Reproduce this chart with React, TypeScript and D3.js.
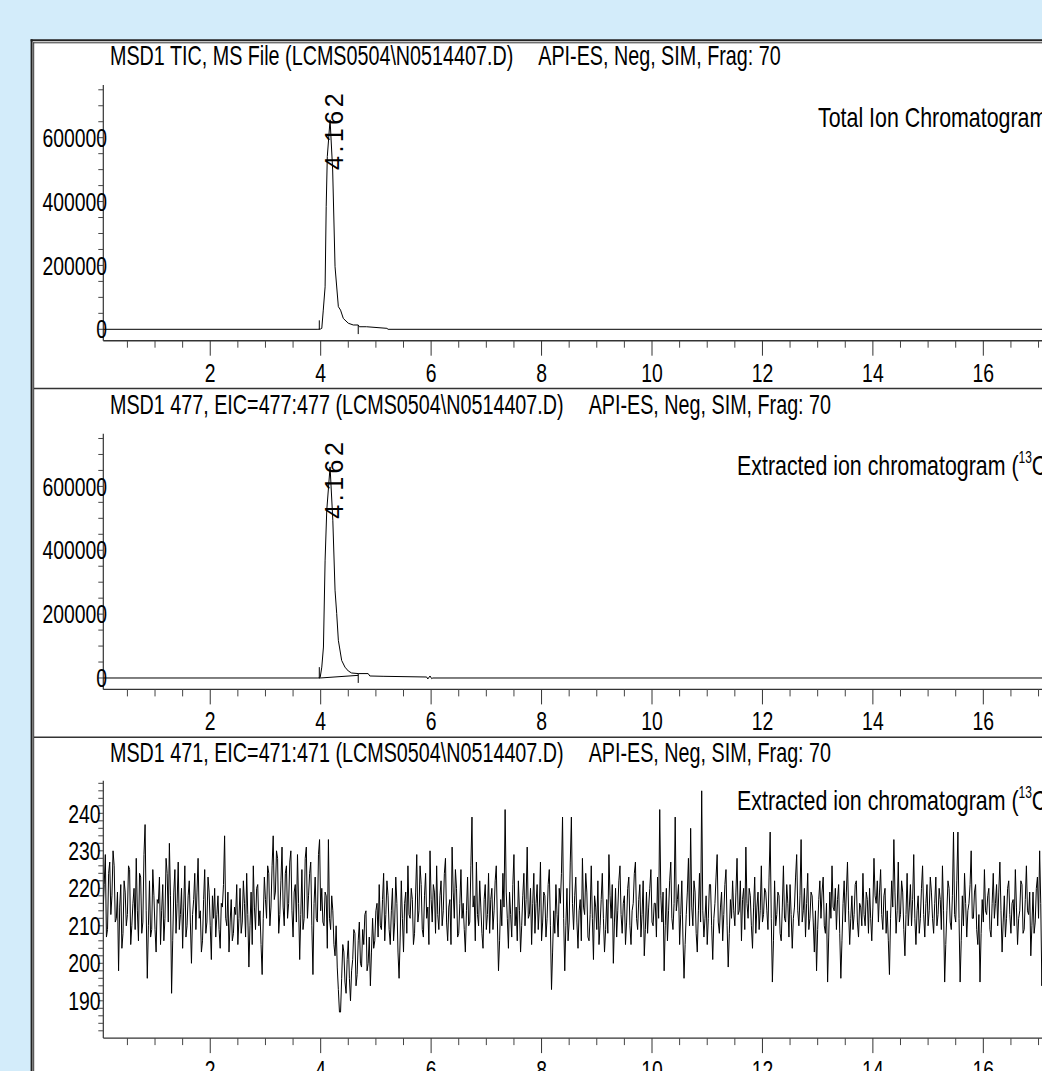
import React from "react";
import * as d3 from "d3";

// ---------- DATA ----------
const panelTitles = [
  "MSD1 TIC, MS File (LCMS0504\\N0514407.D)",
  "MSD1 477, EIC=477:477 (LCMS0504\\N0514407.D)",
  "MSD1 471, EIC=471:471 (LCMS0504\\N0514407.D)",
];
const acqInfo = "API-ES, Neg, SIM, Frag: 70";
const panelNotes = ["Total Ion Chromatogram", "Extracted ion chromatogram (", "Extracted ion chromatogram ("];
const xMajorTicks = [2, 4, 6, 8, 10, 12, 14, 16, 18];
const peakRT = 4.162;

// Panel 1: TIC
const ticTimes = [0.06, 3.95, 4.0, 4.02, 4.047, 4.08, 4.1, 4.12, 4.17, 4.217, 4.26, 4.32, 4.36, 4.41, 4.5, 4.59, 4.68, 4.7, 4.83, 5.2, 5.22, 18.5];
const ticValues = [0, 0, 1000, 3000, 60000, 133000, 384000, 541000, 656000, 499000, 196000, 71000, 60000, 34000, 19000, 13500, 13500, 8000, 8000, 3000, 0, 0];

// Panel 2: EIC 477
const eic477Times = [0.06, 3.95, 3.99, 4.02, 4.05, 4.08, 4.11, 4.17, 4.22, 4.26, 4.29, 4.32, 4.34, 4.38, 4.44, 4.5, 4.56, 4.68, 4.86, 4.89, 5.13, 5.92, 5.94, 5.98, 6.01, 6.03, 18.5];
const eic477Values = [0, 0, 1000, 34000, 97000, 369000, 525000, 661000, 494000, 275000, 202000, 118000, 97000, 55000, 34000, 22000, 15700, 13800, 13800, 6300, 5300, 3100, -3000, 6300, -2000, 0, 0];

// integration markers [time, from, to]
const ticMarkers = [[3.975, -1000, 28000], [4.68, 13000, -15000]];
const eic477Markers = [[3.975, -2000, 34000], [4.68, 13600, -15400]];
const eic477Baseline = [[3.99, 0], [4.68, 8300]];

// Panel 3: EIC 471 (sampled every 0.02 min from 0.06 min)
const eic471Start = 0.06;
const eic471Step = 0.02;
const eic471Values = [
  214,221,229,207,209,224,227,213,218,230,226,211,212,219,198,215,221,204,208,222,219,210,213,226,225,205,210,216,220,209,228,214,206,224,223,208,211,229,237,214,196,210,222,207,209,225,218,209,203,217,
  216,223,205,214,221,206,212,228,224,211,232,218,192,206,219,225,208,216,227,209,213,220,204,215,226,207,210,218,222,211,200,213,217,224,209,219,228,212,214,203,206,217,225,208,211,223,219,210,201,218,
  212,220,207,213,218,209,204,216,215,221,234,212,210,219,203,211,217,206,208,215,213,221,205,212,220,208,211,222,216,207,224,213,199,210,219,205,226,215,209,220,221,210,214,205,197,212,223,217,212,226,
  224,210,215,226,234,217,219,230,228,208,213,222,231,215,210,224,226,212,216,227,230,214,207,219,221,211,229,216,201,213,225,209,212,228,231,212,218,224,227,210,197,216,223,212,211,229,233,214,220,211,
  210,219,218,204,233,212,209,218,214,205,202,210,199,193,187,187,196,205,203,195,192,201,206,196,190,198,201,209,208,194,197,206,211,200,199,209,205,213,214,198,200,207,194,203,212,204,206,214,216,207,
  221,210,209,217,224,206,213,222,218,209,205,214,220,206,211,223,216,203,196,207,222,212,203,216,219,208,226,213,212,220,217,205,208,219,229,211,214,226,221,209,207,218,224,212,215,205,230,217,211,221,
  219,208,226,213,209,218,222,210,214,224,228,211,206,215,217,205,231,219,212,225,220,207,208,216,225,212,216,209,203,214,223,210,211,226,239,215,218,206,227,213,210,222,215,208,204,217,221,209,213,224,
  208,217,220,209,214,222,226,211,198,206,217,210,224,215,241,219,212,204,219,213,207,221,229,210,215,206,222,214,203,210,218,224,210,217,231,212,213,220,205,216,224,208,216,221,209,215,227,206,211,219,
  218,207,212,221,225,210,193,203,214,208,221,213,207,220,216,224,239,212,198,210,220,206,211,227,239,216,209,218,223,211,204,214,217,206,228,215,213,224,219,207,206,213,226,212,201,218,215,209,222,205,
  210,217,224,212,203,209,217,208,229,218,212,221,200,211,220,207,214,222,226,213,208,216,218,205,211,220,223,210,205,214,216,224,227,212,209,217,221,207,213,222,202,209,219,208,215,220,225,211,210,216,
  216,207,223,212,241,218,211,219,198,210,220,206,214,222,227,212,209,216,239,214,217,221,205,213,222,207,196,205,213,219,228,210,236,215,210,222,219,208,203,214,224,211,246,214,207,212,218,205,212,221,
  221,210,201,212,216,223,229,211,208,215,219,206,213,221,225,210,199,208,217,212,222,214,210,219,228,213,214,222,206,217,220,209,231,216,212,220,218,210,204,215,223,208,215,219,209,214,226,211,213,220,
  219,214,209,223,235,212,195,206,222,210,213,219,218,208,206,215,226,212,211,221,216,207,221,213,204,212,215,223,229,214,210,218,233,211,214,220,207,216,224,209,212,219,218,211,203,214,198,209,217,222,
  212,219,223,210,208,216,195,207,219,212,226,215,214,220,209,217,221,208,196,206,216,222,211,219,227,214,205,212,218,209,213,221,222,211,207,216,215,210,224,213,210,219,217,208,220,212,206,215,228,218,
  216,222,211,219,225,213,209,218,220,208,214,206,197,212,222,215,233,219,208,214,227,211,213,222,219,209,202,213,224,210,215,221,210,217,229,212,205,214,218,208,212,220,226,213,207,216,221,210,214,223,
  219,212,208,216,223,210,213,220,217,209,226,214,195,205,214,222,220,211,209,218,235,213,211,222,235,212,195,206,218,210,224,216,207,214,216,221,230,212,212,219,221,209,205,213,195,208,217,211,225,214,
  213,218,220,209,207,216,224,212,216,221,210,219,227,214,203,211,218,207,212,220,222,213,208,216,217,210,225,215,205,212,214,222,221,208,209,217,226,214,213,219,202,210,219,208,211,220,223,212,230,216,
  194,205,212,218,221,209,208,214,217,
];

const yLabelsAbund = [0, 200000, 400000, 600000];
const yLabels471 = [190, 200, 210, 220, 230, 240];

// ---------- LAYOUT ----------
const W = 1042;
const H = 1071;
const panelTops = [40, 388.7, 737.4];
const SANS = "'Liberation Sans', Arial, Helvetica, sans-serif";
const AXIS_X = 103.3;

const x = d3.scaleLinear().domain([0, 18]).range([99.8, 99.8 + 55.22 * 18]);

function NText({
  x: px,
  y: py,
  size,
  sx,
  anchor = "start",
  dy,
  children,
}: {
  x: number;
  y: number;
  size: number;
  sx: number;
  anchor?: string;
  dy?: string;
  children: React.ReactNode;
}) {
  return (
    <text
      transform={`translate(${px},${py}) scale(${sx},1)`}
      fontFamily={SANS}
      fontSize={size}
      textAnchor={anchor}
      dy={dy}
      fill="#000"
    >
      {children}
    </text>
  );
}

const TICK_FS = 25.5;
const TICK_SX = 0.76;
const TITLE_FS = 28;
const TITLE_SX = 0.705;
const TITLE_GAP = 25;
const NOTE_FS = 28.5;
const NOTE_SX = 0.75;

function XAxis({ y }: { y: number }) {
  const minor = d3.range(0.5, 18.01, 0.5).filter((t) => Math.abs(t / 2 - Math.round(t / 2)) > 1e-6);
  return (
    <g>
      <line x1={AXIS_X} x2={W + 10} y1={y} y2={y} stroke="#333" strokeWidth={1.4} />
      {minor.map((t) => (
        <line key={"m" + t} x1={x(t)} x2={x(t)} y1={y} y2={y + 7} stroke="#444" strokeWidth={1} />
      ))}
      {xMajorTicks.map((t) => (
        <g key={"M" + t}>
          <line x1={x(t)} x2={x(t)} y1={y} y2={y + 15} stroke="#333" strokeWidth={1} />
          <NText x={x(t)} y={y + 41} size={TICK_FS} sx={TICK_SX} anchor="middle">
            {t}
          </NText>
        </g>
      ))}
    </g>
  );
}

function Panel({ idx }: { idx: number }) {
  const T = panelTops[idx];
  const axisY = T + 300.7;
  const isNoise = idx === 2;
  const y = isNoise
    ? d3.scaleLinear().domain([180, 248.7]).range([T + 300.9, T + 43.3])
    : d3.scaleLinear().domain([-35700, 765000]).range([axisY, T + 45]);
  const minorTicks = isNoise ? d3.range(182, 249, 2) : d3.range(0, 750001, 50000);
  const labels = isNoise ? yLabels471 : yLabelsAbund;
  const labelX = isNoise ? 100.5 : 107;

  let pts: [number, number][];
  if (idx === 0) pts = ticTimes.map((t, i) => [t, ticValues[i]]);
  else if (idx === 1) pts = eic477Times.map((t, i) => [t, eic477Values[i]]);
  else pts = eic471Values.map((v, i) => [eic471Start + eic471Step * i, v]);

  const line = d3
    .line<[number, number]>()
    .x((d) => x(d[0]))
    .y((d) => y(d[1]));

  const markers = idx === 0 ? ticMarkers : idx === 1 ? eic477Markers : [];
  const clipId = "clip" + idx;

  return (
    <g>
      <defs>
        <clipPath id={clipId}>
          <rect x={AXIS_X} y={T + 2} width={W} height={346} />
        </clipPath>
      </defs>
      {/* title + acquisition info */}
      <NText x={110} y={T + 25} size={TITLE_FS} sx={TITLE_SX}>
        {panelTitles[idx]}
        <tspan dx={TITLE_GAP / TITLE_SX}>{acqInfo}</tspan>
      </NText>
      {/* annotation */}
      {idx === 0 ? (
        <NText x={818} y={T + 86.7} size={NOTE_FS} sx={NOTE_SX}>
          {panelNotes[0]}
        </NText>
      ) : (
        <NText x={737} y={T + (idx === 1 ? 86.7 : 72.6)} size={NOTE_FS} sx={NOTE_SX}>
          {panelNotes[idx]}
          <tspan fontSize={16} dy={-12}>
            13
          </tspan>
          <tspan dy={12}>C</tspan>
        </NText>
      )}
      {/* y axis */}
      <line x1={AXIS_X} x2={AXIS_X} y1={y.range()[1]} y2={axisY} stroke="#333" strokeWidth={1.2} />
      {minorTicks.map((v) => (
        <line key={v} x1={AXIS_X - 5} x2={AXIS_X} y1={y(v)} y2={y(v)} stroke="#444" strokeWidth={1} />
      ))}
      {labels.map((v) => (
        <NText key={"l" + v} x={labelX} y={y(v)} dy="0.36em" anchor="end" size={TICK_FS} sx={TICK_SX}>
          {v}
        </NText>
      ))}
      <XAxis y={axisY} />
      {/* data */}
      <g clipPath={`url(#${clipId})`}>
        <path d={line(pts) || ""} fill="none" stroke="#000" strokeWidth={1} strokeLinejoin="round" />
        {idx === 1 && (
          <path d={line(eic477Baseline as [number, number][]) || ""} fill="none" stroke="#000" strokeWidth={1} />
        )}
        {markers.map((m, i) => (
          <line key={i} x1={x(m[0])} x2={x(m[0])} y1={y(m[1])} y2={y(m[2])} stroke="#000" strokeWidth={1} />
        ))}
      </g>
      {/* peak label */}
      {!isNoise && (
        <text
          transform={`translate(${x(peakRT) + 13},${T + 130}) rotate(-90)`}
          fontFamily={SANS}
          fontSize={25}
          letterSpacing={3.5}
          fill="#000"
        >
          {peakRT.toFixed(3)}
        </text>
      )}
      {/* separator */}
      {idx < 2 && <line x1={34} x2={W + 10} y1={T + 348.5} y2={T + 348.5} stroke="#333" strokeWidth={1.4} />}
    </g>
  );
}

export default function App() {
  return (
    <svg
      width={W}
      height={H}
      viewBox={`0 0 ${W} ${H}`}
      style={{ position: "absolute", left: 0, top: 0, display: "block" }}
    >
      <rect x={0} y={0} width={W} height={H} fill="#d3ecfa" />
      <rect x={31.5} y={40.3} width={W} height={H} fill="#fff" />
      <line x1={31.6} x2={31.6} y1={39.3} y2={H + 5} stroke="#222" strokeWidth={2} />
      <line x1={30.6} x2={W + 5} y1={40.3} y2={40.3} stroke="#222" strokeWidth={2} />
      <line x1={33.7} x2={33.7} y1={42.3} y2={H + 5} stroke="#333" strokeWidth={1} />
      <line x1={33.2} x2={W + 5} y1={42.8} y2={42.8} stroke="#333" strokeWidth={1} />
      {[0, 1, 2].map((i) => (
        <Panel key={i} idx={i} />
      ))}
    </svg>
  );
}
